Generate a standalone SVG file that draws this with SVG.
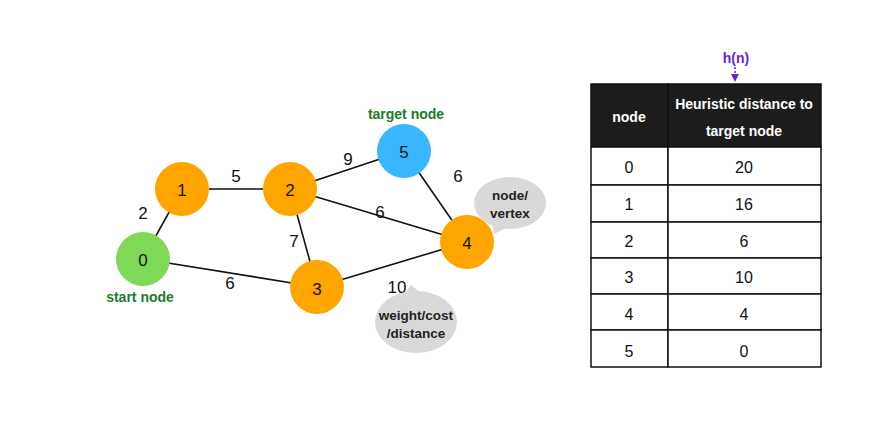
<svg xmlns="http://www.w3.org/2000/svg" width="875" height="438" viewBox="0 0 875 438">
<defs>
<style>
text{font-family:"Liberation Sans","DejaVu Sans",sans-serif;text-anchor:middle;dominant-baseline:central;}
.num{font-size:17px;fill:#111;}
.nl{font-size:17px;fill:#111;}
.green{font-size:14px;font-weight:bold;fill:#1b7a2d;}
.bub{fill:#d9d9d9;}
.bt{font-size:13.5px;font-weight:bold;fill:#222;}
.edge{stroke:#111;stroke-width:1.6;fill:none;}
.cell{fill:#fff;stroke:#111;stroke-width:1.5;}
.hd{fill:#1c1c1c;stroke:#111;stroke-width:1.5;}
.ht{font-size:14px;font-weight:bold;fill:#fff;}
.tv{font-size:16px;fill:#111;}
</style>
<marker id="ah" markerWidth="8" markerHeight="8" refX="4" refY="4" orient="auto" markerUnits="userSpaceOnUse">
<path d="M0,0 L8,4 L0,8 Z" fill="#6a1fd8"/>
</marker>
</defs>
<rect width="875" height="438" fill="#fff"/>
<g id="connectors">
<line class="edge" x1="143" y1="259" x2="182" y2="189"/>
<line class="edge" x1="182" y1="189" x2="290" y2="189"/>
<line class="edge" x1="290" y1="189" x2="404" y2="151"/>
<line class="edge" x1="290" y1="189" x2="467" y2="242"/>
<line class="edge" x1="290" y1="189" x2="317" y2="287"/>
<line class="edge" x1="143" y1="259" x2="317" y2="287"/>
<line class="edge" x1="404" y1="151" x2="467" y2="242"/>
<line class="edge" x1="317" y1="287" x2="467" y2="242"/>
<text class="nl" x="143" y="213">2</text>
<text class="nl" x="236" y="176">5</text>
<text class="nl" x="348" y="159">9</text>
<text class="nl" x="380" y="212">6</text>
<text class="nl" x="294" y="241">7</text>
<text class="nl" x="230" y="283">6</text>
<text class="nl" x="458" y="176">6</text>
<text class="nl" x="397" y="287">10</text>
</g>
<g id="node0"><circle cx="143" cy="259" r="27" fill="#7ed957"/><text class="num" x="143" y="260">0</text><text class="green" x="140" y="297">start node</text></g>
<g id="node1"><circle cx="182" cy="189" r="27" fill="#ffa500"/><text class="num" x="182" y="190">1</text></g>
<g id="node2"><circle cx="290" cy="189" r="27" fill="#ffa500"/><text class="num" x="290" y="190">2</text></g>
<g id="node3"><circle cx="317" cy="287" r="27" fill="#ffa500"/><text class="num" x="317" y="289">3</text></g>
<g id="node4"><circle cx="467" cy="242" r="27" fill="#ffa500"/><text class="num" x="467" y="243">4</text></g>
<g id="node5"><circle cx="404" cy="151" r="27" fill="#38b6ff"/><text class="num" x="404" y="152">5</text><text class="green" x="406" y="114">target node</text></g>
<g id="bubble-node">
<path class="bub" d="M492,222 L494,234 L506,228 Z"/>
<ellipse class="bub" cx="510" cy="203" rx="36" ry="26"/>
<text class="bt" x="510" y="195">node/</text>
<text class="bt" x="510" y="213">vertex</text>
</g>
<g id="bubble-weight">
<path class="bub" d="M404,294 L411,285 L421,293 Z"/>
<ellipse class="bub" cx="416" cy="322" rx="41" ry="31"/>
<text class="bt" x="416" y="315">weight/cost</text>
<text class="bt" x="416" y="333">/distance</text>
</g>
<g id="table">
<rect class="hd" x="591" y="84" width="77" height="63"/>
<rect class="hd" x="668" y="84" width="153" height="63"/>
<text class="ht" x="629" y="117">node</text>
<text class="ht" x="744" y="104">Heuristic distance to</text>
<text class="ht" x="744" y="131">target node</text>
<rect class="cell" x="591" y="147" width="77" height="38"/><rect class="cell" x="668" y="147" width="153" height="38"/>
<text class="tv" x="629" y="167">0</text><text class="tv" x="744" y="167">20</text>
<rect class="cell" x="591" y="185" width="77" height="37"/><rect class="cell" x="668" y="185" width="153" height="37"/>
<text class="tv" x="629" y="204">1</text><text class="tv" x="744" y="204">16</text>
<rect class="cell" x="591" y="222" width="77" height="36"/><rect class="cell" x="668" y="222" width="153" height="36"/>
<text class="tv" x="629" y="241">2</text><text class="tv" x="744" y="241">6</text>
<rect class="cell" x="591" y="258" width="77" height="36"/><rect class="cell" x="668" y="258" width="153" height="36"/>
<text class="tv" x="629" y="277">3</text><text class="tv" x="744" y="277">10</text>
<rect class="cell" x="591" y="294" width="77" height="36"/><rect class="cell" x="668" y="294" width="153" height="36"/>
<text class="tv" x="629" y="314">4</text><text class="tv" x="744" y="314">4</text>
<rect class="cell" x="591" y="330" width="77" height="37"/><rect class="cell" x="668" y="330" width="153" height="37"/>
<text class="tv" x="629" y="351">5</text><text class="tv" x="744" y="351">0</text>
</g>
<g id="hn">
<text x="736" y="58" style="font-size:14px;font-weight:bold;fill:#6a1fd8;">h(n)</text>
<line x1="735" y1="67" x2="735" y2="78" stroke="#6a1fd8" stroke-width="1.5" stroke-dasharray="2,2" marker-end="url(#ah)"/>
</g>
</svg>
